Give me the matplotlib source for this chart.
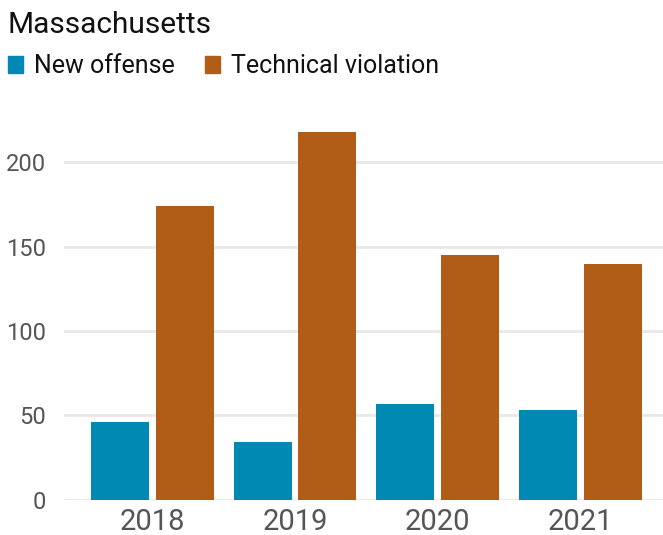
import matplotlib
matplotlib.use("Agg")
import matplotlib.pyplot as plt
from matplotlib.patches import Patch
import numpy as np

# Yearly counts by reason
years = ["2018", "2019", "2020", "2021"]
new_offense = [46, 34, 57, 53]
technical_violation = [174, 218, 145, 140]
y_ticks = [0, 50, 100, 150, 200]

BLUE = "#0089b3"
ORANGE = "#b15d17"
GRID = "#e8e8e8"
TICK = "#555555"

plt.rcParams["font.family"] = ["Roboto", "DejaVu Sans"]

fig = plt.figure(figsize=(6.63, 5.35), dpi=100)
ax = fig.add_axes([64 / 663, 35.3 / 535, 1 - 64 / 663, (499.7 - 120.1) / 535])

x = np.arange(len(years))
w = 0.406
off = 0.227
ax.bar(x - off, new_offense, width=w, color=BLUE, zorder=3)
ax.bar(x + off, technical_violation, width=w, color=ORANGE, zorder=3)

ax.set_xlim(-0.619, 3.58)
ax.set_ylim(0, 225)
ax.set_yticks(y_ticks)
ax.set_xticks(x)
ax.set_xticklabels(years)
ax.yaxis.grid(True, color=GRID, linewidth=2.0, zorder=0)
ax.set_axisbelow(True)
for s in ax.spines.values():
    s.set_visible(False)
ax.tick_params(axis="both", length=0, colors=TICK)
ax.tick_params(axis="y", labelsize=17, pad=13)
ax.tick_params(axis="x", labelsize=21, pad=6)

fig.text(8 / 663, 1 - 33 / 535, "Massachusetts", fontsize=21.5, color="#111111",
         ha="left", va="baseline")

handles = [Patch(color=BLUE, label="New offense"),
           Patch(color=ORANGE, label="Technical violation")]
fig.legend(handles=handles, loc="upper left", bbox_to_anchor=(3 / 663, 1 - 49 / 535),
           ncol=2, frameon=False, fontsize=18, handlelength=0.6, handleheight=0.7,
           handletextpad=0.45, columnspacing=1.2, borderpad=0.2, borderaxespad=0,
           labelcolor="#111111")

fig.savefig("out.png", dpi=100)
